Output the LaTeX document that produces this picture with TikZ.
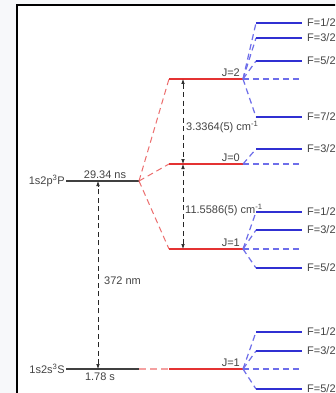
\documentclass[tikz,border=0pt]{standalone}
\usepackage{fontspec}
\setmainfont{Liberation Sans}
\usepackage{xcolor}
\usetikzlibrary{arrows.meta}
\definecolor{pagegray}{RGB}{247,248,250}
\definecolor{levelred}{RGB}{228,50,50}
\definecolor{dashred}{RGB}{236,110,110}
\definecolor{palered}{RGB}{244,160,160}
\definecolor{levelblue}{RGB}{48,48,210}
\definecolor{dashblue}{RGB}{110,110,234}
\definecolor{textgray}{RGB}{68,68,68}
\tikzset{
  baselevel/.style={line width=1.8pt, color=black!75},
  finelevel/.style={line width=2.2pt, color=levelred},
  finedash/.style={line width=1pt, color=dashred, dash pattern=on 6pt off 4pt},
  linkdash/.style={line width=2pt, color=palered, dash pattern=on 7pt off 4pt},
  hfline/.style={line width=1.3pt, color=levelblue},
  hfdash/.style={line width=1.2pt, color=dashblue, dash pattern=on 6pt off 4pt},
  gaparrow/.style={
    {Latex[length=5pt,width=3.6pt]}-{Latex[length=5pt,width=3.6pt]},
    line width=0.7pt, black!85, dash pattern=on 5pt off 3.5pt
  },
  levellabel/.style={
    font=\fontsize{11}{12}\selectfont, text=textgray, inner sep=1pt
  },
  flabel/.style={levellabel, anchor=west, xshift=4pt},
}
% hyperfine fan: #1 = fine level, #2 = list of y/numerator
\newcommand{\hfsplit}[2]{%
  \path (#1r) ++(59,0) coordinate (#1e);
  \draw[hfdash] (#1r) -- (#1e);
  \foreach \y/\n in {#2} {
    \coordinate (#1a\n) at (256,\y);
    \coordinate (#1b\n) at (302,\y);
    \draw[hfdash] (#1r) -- (#1a\n);
    \draw[hfline] (#1a\n) -- (#1b\n);
    \node[flabel] (#1f\n) at (#1b\n) {F=\n/2};
  }%
}

\begin{document}
\begin{tikzpicture}[x=1pt, y=-1pt]
  \useasboundingbox (0,0) rectangle (335,393);
  \clip (0,0) rectangle (335,393);
  \fill[pagegray] (0,0) rectangle (335,393);
  \draw[line width=2pt, fill=white] (17,5) rectangle (350,410);

  % Level end points
  \coordinate (Pl) at (66,181);   \coordinate (Pr) at (139,181);
  \coordinate (Sl) at (66,369);   \coordinate (Sr) at (139,369);
  \coordinate (J2l) at (169,79);  \coordinate (J2r) at (243,79);
  \coordinate (J0l) at (169,164); \coordinate (J0r) at (243,164);
  \coordinate (J1l) at (169,249); \coordinate (J1r) at (243,249);
  \coordinate (S1l) at (169,369); \coordinate (S1r) at (243,369);

  % Terms
  \draw[baselevel] (Pl) -- (Pr);
  \draw[baselevel] (Sl) -- (Sr);
  \node[levellabel, anchor=east] (Pname) at (Pl) {1s2p\textsuperscript{3}P};
  \node[levellabel, anchor=east] (Sname) at (Sl) {1s2s\textsuperscript{3}S};
  \node[levellabel, anchor=south] (Plife) at (105,180) {29.34 ns};
  \node[levellabel, anchor=north] (Slife) at (100,372) {1.78 s};

  % Fine structure
  \draw[finedash] (Pr) -- (J2l);
  \draw[finedash] (Pr) -- (J0l);
  \draw[finedash] (Pr) -- (J1l);
  \draw[linkdash] (Sr) -- (S1l);
  \draw[finelevel] (J2l) -- (J2r);
  \draw[finelevel] (J0l) -- (J0r);
  \draw[finelevel] (J1l) -- (J1r);
  \draw[finelevel] (S1l) -- (S1r);
  \node[levellabel, anchor=south east] (J2name) at (241,78) {J=2};
  \node[levellabel, anchor=south east] (J0name) at (241,163) {J=0};
  \node[levellabel, anchor=south east] (J1name) at (241,248) {J=1};
  \node[levellabel, anchor=south east] (S1name) at (241,368) {J=1};

  % Hyperfine structure
  \hfsplit{J2}{23/1,38/3,61/5,117/7}
  \hfsplit{J0}{149/3}
  \hfsplit{J1}{212/1,230/3,268/5}
  \hfsplit{S1}{332/1,351/3,389/5}

  % Splittings
  \coordinate (a2) at (183,79);  \coordinate (a0) at (183,164);
  \coordinate (a1) at (183,249);
  \coordinate (tP) at (98,181);  \coordinate (tS) at (98,369);
  \draw[gaparrow] (a2) -- (a0);
  \draw[gaparrow] (a1) -- (a0);
  \draw[gaparrow] (tS) -- (tP);
  \node[levellabel, anchor=west] (gap20) at (185,127) {3.3364(5) cm\textsuperscript{-1}};
  \node[levellabel, anchor=west] (gap01) at (184,210) {11.5586(5) cm\textsuperscript{-1}};
  \node[levellabel, anchor=west] (wave) at (103,281) {372 nm};
\end{tikzpicture}
\end{document}
